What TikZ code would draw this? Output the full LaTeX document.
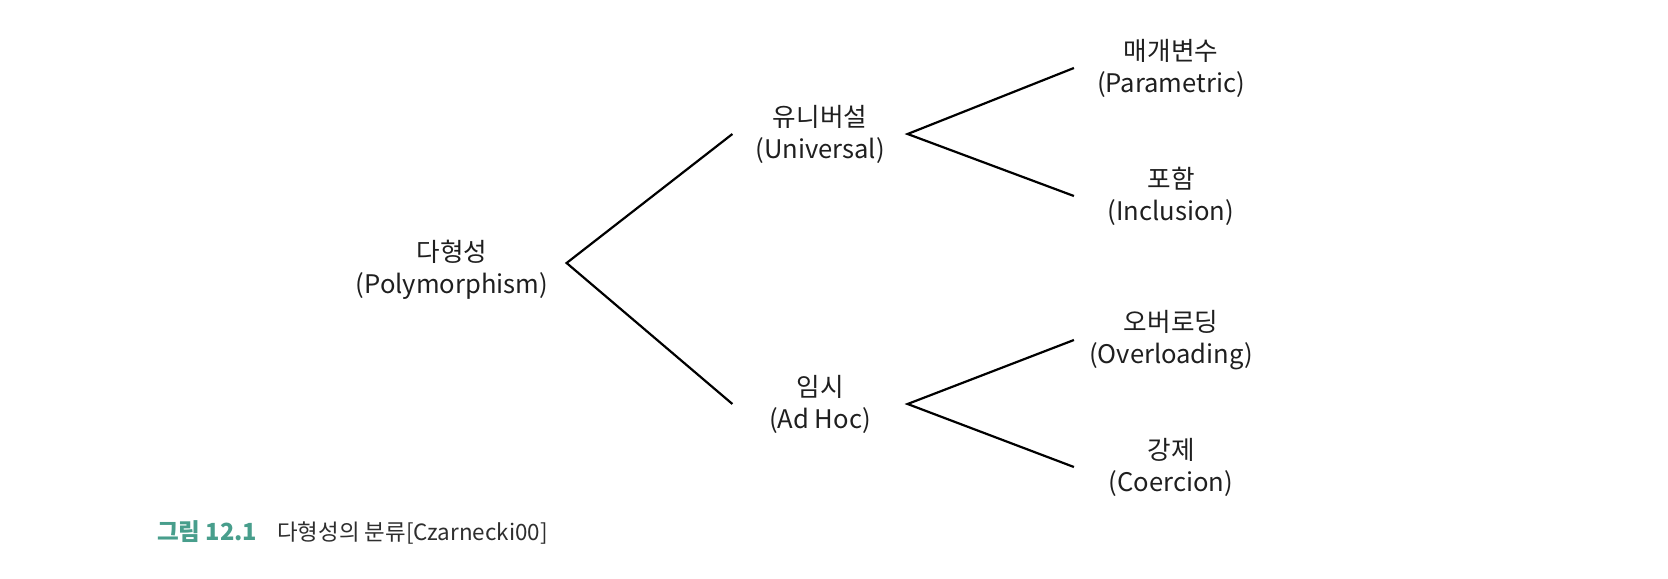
\documentclass[tikz,border=0pt]{standalone}
\usepackage{fontspec}
\setmainfont{Noto Sans CJK KR}
\usetikzlibrary{positioning}
\definecolor{figteal}{RGB}{72,158,140}
\tikzset{
  every picture/.style={
    line width=1.1pt
  },
  kind/.style={align=center, inner sep=0pt, text=black!88,
    font=\fontsize{12.8pt}{16pt}\selectfont},
  rootkind/.style={kind, minimum width=113.5pt},
  midkind/.style={kind, minimum width=86.5pt},
  leafkind/.style={kind, minimum width=96pt}
}

\begin{document}
\begin{tikzpicture}[x=0.5pt, y=-0.5pt, node distance=10pt, on grid]
  \useasboundingbox (0,0) rectangle (1668,578);

  \node[rootkind] (poly) at (452,270) {다형성\\(Polymorphism)};
  \node[midkind, above right=68pt and 184pt of poly] (univ) {유니버설\\(Universal)};
  \node[midkind, below right=67pt and 184pt of poly] (adhoc) {임시\\(Ad Hoc)};

  \node[leafkind, above right=33pt and 175.5pt of univ] (param) {매개변수\\(Parametric)};
  \node[leafkind, below right=31pt and 175.5pt of univ] (incl) {포함\\(Inclusion)};
  \node[leafkind, above right=32pt and 175.5pt of adhoc] (overl) {오버로딩\\(Overloading)};
  \node[leafkind, below right=31.5pt and 175.5pt of adhoc] (coer) {강제\\(Coercion)};

  \draw (univ.west) -- ([yshift=3.5pt]poly.east) -- (adhoc.west);
  \draw (param.west) -- (univ.east) -- (incl.west);
  \draw (overl.west) -- (adhoc.east) -- (coer.west);

  % caption
  \node[anchor=west, inner sep=0pt, text=black!82, font=\fontsize{11.2pt}{14pt}\selectfont] (cap) at (156,532)
    {{\color{figteal}\fontsize{11.8pt}{14pt}\selectfont\bfseries 그림 12.1}\hspace{10pt}다형성의 분류[Czarnecki00]};
\end{tikzpicture}
\end{document}
